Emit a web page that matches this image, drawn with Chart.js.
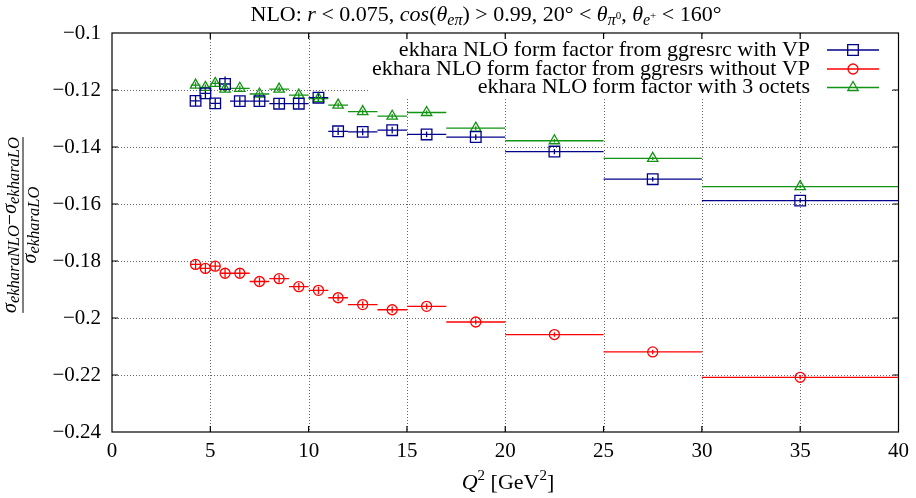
<!DOCTYPE html>
<html>
<head>
<meta charset="utf-8">
<script src="https://cdn.jsdelivr.net/npm/chart.js@4/dist/chart.umd.min.js"></script>
<style>
  html, body { margin: 0; padding: 0; background: #fff; }
</style>
</head>
<body>
<canvas id="chart" width="916" height="498"></canvas>
<script>
// bins in Q^2 (GeV^2)
const q2 = [4.25, 4.75, 5.25, 5.75, 6.5, 7.5, 8.5, 9.5, 10.5, 11.5, 12.75, 14.25, 16, 18.5, 22.5, 27.5, 35];
const q2Low = [4, 4.5, 5, 5.5, 6, 7, 8, 9, 10, 11, 12, 13.5, 15, 17, 20, 25, 30];
const q2High = [4.5, 5, 5.5, 6, 7, 8, 9, 10, 11, 12, 13.5, 15, 17, 20, 25, 30, 40];

const withVP = [-0.1238, -0.1212, -0.1247, -0.1179, -0.1239, -0.1239, -0.1248, -0.1248, -0.1227, -0.1345, -0.1347, -0.1341, -0.1356, -0.1365, -0.1416, -0.1513, -0.1588];
const withoutVP = [-0.1812, -0.1826, -0.1818, -0.1843, -0.1843, -0.1872, -0.1862, -0.1890, -0.1903, -0.1929, -0.1953, -0.1971, -0.1959, -0.2014, -0.2058, -0.2119, -0.2208];
const octets = [-0.1183, -0.1191, -0.1177, -0.1197, -0.1194, -0.1214, -0.1197, -0.1218, -0.1230, -0.1253, -0.1276, -0.1292, -0.1279, -0.1334, -0.1378, -0.1440, -0.1539];

const errVP = [0.0018, 0.0018, 0.0018, 0.0026, 0.0016, 0.0016, 0.0016, 0.0016, 0.0015, 0.0013, 0.0012, 0.0012, 0.0010, 0.0010, 0.0009, 0.0008, 0.0008];
const errNoVP = [0.0016, 0.0016, 0.0016, 0.0015, 0.0015, 0.0014, 0.0014, 0.0013, 0.0013, 0.0012, 0.0012, 0.0011, 0.0010, 0.0009, 0.0008, 0.0008, 0.0008];
const errOct = [0.0010, 0.0010, 0.0010, 0.0010, 0.0009, 0.0009, 0.0009, 0.0009, 0.0008, 0.0008, 0.0008, 0.0008, 0.0007, 0.0007, 0.0006, 0.0006, 0.0006];

const xTicks = [0, 5, 10, 15, 20, 25, 30, 35, 40];
const yTicks = [-0.24, -0.22, -0.2, -0.18, -0.16, -0.14, -0.12, -0.1];

const labels = [
    'ekhara NLO form factor from ggresrc with VP',
    'ekhara NLO form factor from ggresrs without VP',
    'ekhara NLO form factor with 3 octets'
];

const FONT = '"Liberation Serif", "DejaVu Serif", serif';

function pts(ys, errs) {
    return q2.map((x, i) => ({ x: x, y: ys[i], lo: q2Low[i], hi: q2High[i], e: errs[i] }));
}

function fmt(v) {
    return String(Math.round(v * 100) / 100).replace('-', '\u2212');
}

// draws a run of text pieces (italic / sub / sup) one after another
function rich(ctx, segs, x, y, align) {
    const font = s => (s.it ? 'italic ' : '') + (s.size || 22) + 'px ' + FONT;
    let w = 0;
    segs.forEach(s => { ctx.font = font(s); w += ctx.measureText(s.t).width; });
    let cx = align === 'center' ? x - w / 2 : (align === 'right' ? x - w : x);
    ctx.textAlign = 'left';
    ctx.textBaseline = 'alphabetic';
    segs.forEach(s => {
        ctx.font = font(s);
        ctx.fillText(s.t, cx, y + (s.dy || 0));
        cx += ctx.measureText(s.t).width;
    });
    return w;
}

function marker(ctx, style, x, y) {
    ctx.beginPath();
    if (style === 'rect') {
        ctx.rect(x - 5.3, y - 5.3, 10.6, 10.6);
    } else if (style === 'circle') {
        ctx.arc(x, y, 5, 0, Math.PI * 2);
    } else {
        const r = 6;
        ctx.moveTo(x, y - r);
        ctx.lineTo(x + r * 0.866, y + r / 2);
        ctx.lineTo(x - r * 0.866, y + r / 2);
        ctx.closePath();
    }
    ctx.stroke();
}

const framePlugin = {
    id: 'frame',
    beforeDatasetsDraw(chart) {
        const { ctx, chartArea: a, scales: { x, y } } = chart;
        ctx.save();
        // dotted grid
        ctx.strokeStyle = '#666';
        ctx.lineWidth = 1;
        ctx.setLineDash([1, 2]);
        xTicks.slice(1, -1).forEach(v => {
            const px = Math.round(x.getPixelForValue(v)) + 0.5;
            ctx.beginPath(); ctx.moveTo(px, a.top); ctx.lineTo(px, a.bottom); ctx.stroke();
        });
        yTicks.slice(1, -1).forEach(v => {
            const py = Math.round(y.getPixelForValue(v)) + 0.5;
            ctx.beginPath(); ctx.moveTo(a.left, py); ctx.lineTo(a.right, py); ctx.stroke();
        });
        ctx.setLineDash([]);
        // bin widths and small vertical error bars
        chart.data.datasets.forEach(ds => {
            ctx.strokeStyle = ds.borderColor;
            ctx.lineWidth = 1.3;
            ds.data.forEach(p => {
                const py = y.getPixelForValue(p.y);
                const px = x.getPixelForValue(p.x);
                ctx.beginPath();
                ctx.moveTo(x.getPixelForValue(p.lo), py);
                ctx.lineTo(x.getPixelForValue(p.hi), py);
                ctx.moveTo(px, y.getPixelForValue(p.y + p.e));
                ctx.lineTo(px, y.getPixelForValue(p.y - p.e));
                ctx.stroke();
            });
        });
        ctx.restore();
    },
    afterDraw(chart) {
        const { ctx, chartArea: a, scales: { x, y } } = chart;
        ctx.save();
        // legend box (opaque, like gnuplot key)
        const rowY = [50, 69, 87.5];
        ctx.fillStyle = '#fff';
        ctx.fillRect(368, a.top + 2, 522, 63);
        chart.data.datasets.forEach((ds, i) => {
            ctx.fillStyle = '#000';
            ctx.font = '22px ' + FONT;
            ctx.textAlign = 'right';
            ctx.textBaseline = 'middle';
            ctx.fillText(labels[i], 810, rowY[i]);
            ctx.strokeStyle = ds.borderColor;
            ctx.lineWidth = 1.3;
            ctx.beginPath(); ctx.moveTo(827, rowY[i]); ctx.lineTo(879, rowY[i]); ctx.stroke();
            marker(ctx, ds.pointStyle, 853, rowY[i]);
        });
        // frame and inward ticks
        ctx.strokeStyle = '#000';
        ctx.lineWidth = 1.2;
        ctx.strokeRect(a.left, a.top, a.right - a.left, a.bottom - a.top);
        ctx.beginPath();
        xTicks.slice(1, -1).forEach(v => {
            const px = x.getPixelForValue(v);
            ctx.moveTo(px, a.bottom); ctx.lineTo(px, a.bottom - 6);
            ctx.moveTo(px, a.top); ctx.lineTo(px, a.top + 6);
        });
        yTicks.slice(1, -1).forEach(v => {
            const py = y.getPixelForValue(v);
            ctx.moveTo(a.left, py); ctx.lineTo(a.left + 6, py);
            ctx.moveTo(a.right, py); ctx.lineTo(a.right - 6, py);
        });
        ctx.stroke();

        ctx.fillStyle = '#000';
        // title
        rich(ctx, [
            { t: 'NLO: ' }, { t: 'r', it: true }, { t: ' < 0.075, ' },
            { t: 'cos', it: true }, { t: '(' }, { t: '\u03b8', it: true },
            { t: 'e\u03c0', it: true, size: 16, dy: 4 }, { t: ') > 0.99, 20\u00b0 < ' },
            { t: '\u03b8', it: true }, { t: '\u03c0', it: true, size: 16, dy: 4 },
            { t: '0', size: 11, dy: -2 }, { t: ', ' }, { t: '\u03b8', it: true },
            { t: 'e', it: true, size: 16, dy: 4 }, { t: '+', size: 11, dy: -2 },
            { t: ' < 160\u00b0' }
        ], 486, 21, 'center');

        // x axis title
        rich(ctx, [
            { t: 'Q', it: true }, { t: '2', size: 15, dy: -9 },
            { t: ' [GeV' }, { t: '2', size: 15, dy: -9 }, { t: ']' }
        ], 508, 489, 'center');

        // y axis title, a rotated fraction
        ctx.translate(22.5, 225);
        ctx.rotate(-Math.PI / 2);
        const num = [
            { t: '\u03c3', it: true, size: 20 }, { t: 'ekharaNLO', it: true, size: 16.5, dy: 3 },
            { t: '\u2212', size: 20 },
            { t: '\u03c3', it: true, size: 20 }, { t: 'ekharaLO', it: true, size: 16.5, dy: 3 }
        ];
        const w = rich(ctx, num, 0, -7, 'center');
        rich(ctx, [
            { t: '\u03c3', it: true, size: 20 }, { t: 'ekharaLO', it: true, size: 16.5, dy: 3 }
        ], 0, 13, 'center');
        ctx.lineWidth = 1;
        ctx.beginPath(); ctx.moveTo(-w / 2, 0.5); ctx.lineTo(w / 2, 0.5); ctx.stroke();
        ctx.restore();
    }
};

const ctx = document.getElementById('chart').getContext('2d');

const myChart = new Chart(ctx, {
    type: 'scatter',
    data: {
        datasets: [
            {
                data: pts(withVP, errVP),
                borderColor: '#00008b',
                backgroundColor: 'rgba(0,0,0,0)',
                pointStyle: 'rect',
                pointRadius: 7.5,
                borderWidth: 1.3
            },
            {
                data: pts(withoutVP, errNoVP),
                borderColor: '#ff0000',
                backgroundColor: 'rgba(0,0,0,0)',
                pointStyle: 'circle',
                pointRadius: 5,
                borderWidth: 1.3
            },
            {
                data: pts(octets, errOct),
                borderColor: '#139313',
                backgroundColor: 'rgba(0,0,0,0)',
                pointStyle: 'triangle',
                pointRadius: 6,
                borderWidth: 1.3
            }
        ]
    },
    options: {
        responsive: false,
        animation: false,
        layout: { padding: { top: 33, right: 15, left: 0, bottom: 0 } },
        scales: {
            x: {
                type: 'linear',
                min: 0,
                max: 40,
                afterBuildTicks: s => { s.ticks = xTicks.map(v => ({ value: v })); },
                afterFit: s => { s.height = 66; },
                grid: { display: false, drawTicks: false },
                border: { display: false },
                ticks: {
                    color: '#000',
                    padding: 7,
                    maxRotation: 0,
                    font: { family: FONT, size: 21 }
                }
            },
            y: {
                type: 'linear',
                min: -0.24,
                max: -0.1,
                afterBuildTicks: s => { s.ticks = yTicks.map(v => ({ value: v })); },
                afterFit: s => { s.width = 112; },
                grid: { display: false, drawTicks: false },
                border: { display: false },
                ticks: {
                    color: '#000',
                    padding: 11,
                    callback: v => fmt(v),
                    font: { family: FONT, size: 21 }
                }
            }
        },
        plugins: {
            legend: { display: false }, // drawn by hand, text left of the sample
            tooltip: { enabled: false }
        }
    },
    plugins: [framePlugin]
});
</script>
</body>
</html>
